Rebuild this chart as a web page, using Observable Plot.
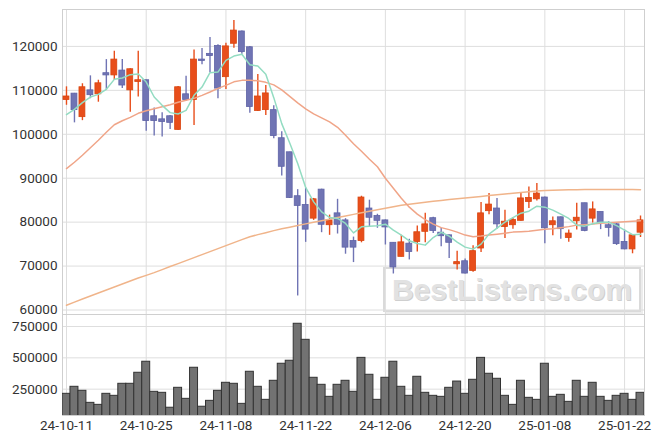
<!DOCTYPE html>
<html>
<head>
<meta charset="utf-8">
<script src="https://cdn.jsdelivr.net/npm/d3@7"></script>
<script src="https://cdn.jsdelivr.net/npm/@observablehq/plot@0.6"></script>
<style>
  html, body { margin: 0; padding: 0; background: #fff; }
  #wrap { position: relative; width: 663px; height: 444px; overflow: hidden; background: #fff; }
  #wrap svg { display: block; position: relative; z-index: 1; }
  #wm {
    position: absolute; z-index: 0; left: 383px; top: 267px; width: 254px; height: 41px;
    border: 2px solid #dadada; box-shadow: 2px 2px 0 #ececec;
    font-family: "Liberation Sans", Arial, sans-serif; font-weight: bold; font-size: 30px;
    color: #e2e2e2; text-align: center; line-height: 41px;
    text-shadow: 1px 1px 0 #cfcfcf;
  }
</style>
</head>
<body>
<div id="wrap"></div>
<script>
const dates = [
  "24-10-11","24-10-14","24-10-15","24-10-16","24-10-17","24-10-18","24-10-21","24-10-22","24-10-23","24-10-24",
  "24-10-25","24-10-28","24-10-29","24-10-30","24-10-31","24-11-01","24-11-04","24-11-05","24-11-06","24-11-07",
  "24-11-08","24-11-11","24-11-12","24-11-13","24-11-14","24-11-15","24-11-18","24-11-19","24-11-20","24-11-21",
  "24-11-22","24-11-25","24-11-26","24-11-27","24-11-28","24-11-29","24-12-02","24-12-03","24-12-04","24-12-05",
  "24-12-06","24-12-09","24-12-10","24-12-11","24-12-12","24-12-13","24-12-16","24-12-17","24-12-18","24-12-19",
  "24-12-20","24-12-23","24-12-24","24-12-26","24-12-27","24-12-30","25-01-02","25-01-03","25-01-06","25-01-07",
  "25-01-08","25-01-09","25-01-10","25-01-13","25-01-14","25-01-15","25-01-16","25-01-17","25-01-20","25-01-21",
  "25-01-22","25-01-23","25-01-24"
];
const opens = [
  107800,109250,103900,110000,109100,113900,113400,114500,110000,111900,
  112300,104100,103400,104100,101000,109100,107800,117000,118300,120100,
  113000,120600,123400,119800,105300,105500,105500,99100,95900,85900,
  83900,80800,87400,79300,82000,80400,75700,75700,83100,81400,
  80400,75300,72100,75100,75500,77800,80900,77600,77000,70400,
  71100,68900,74000,82500,83100,78900,79300,80300,84600,85200,
  85600,79300,81100,76400,80200,84300,80800,82300,79300,79500,
  75500,73800,77600
];
const highs = [
  110800,109300,111500,113300,112300,117000,118900,117000,114900,118900,
  112300,106000,104900,104300,110900,113200,119200,119500,122000,120400,
  120700,125900,123500,120000,113600,111100,106500,100600,95900,87400,
  87700,85400,87500,81600,85200,80800,76600,85900,85000,81800,
  80500,75300,77000,76100,79100,82000,81100,78600,77100,73400,
  71600,74600,84500,86500,85400,82700,81000,86700,88000,88800,
  85700,81200,81200,78200,84300,84300,84600,82300,80100,79700,
  78200,77100,81400
];
const lows = [
  106600,102600,103100,108100,107300,110000,112300,110400,105000,108500,
  100700,99600,99400,101100,100900,107500,102000,115800,114000,108100,
  110200,119600,118200,104800,105200,104300,99000,90500,85400,63200,
  75400,80400,77600,77000,77300,72700,70800,75300,78800,78600,
  74800,68200,72100,71400,73200,75300,77400,74400,71700,69100,
  68200,68600,73100,81700,78400,76300,78400,80200,83100,84800,
  75100,76900,76100,75400,78200,77800,79800,78300,76600,74700,
  73700,72800,76500
];
const closes = [
  108600,105500,110700,108900,111600,113400,117000,111100,114800,112300,
  103000,103000,102800,102600,110700,107800,117000,116700,117800,110400,
  120000,123600,118700,106200,108600,109300,99600,92600,85500,83700,
  78300,85200,79400,80400,79400,74200,74200,85600,81000,80300,
  78800,69700,75400,73200,77700,79500,78000,76800,75300,70900,
  68300,73400,82000,84000,79500,80100,80500,85400,85500,86500,
  78600,80200,78400,77400,81000,78000,82900,79800,78700,75000,
  73800,77000,80400
];
const volumes = [
  213000,269000,237000,141000,125000,213000,197000,293000,293000,381000,
  469000,229000,221000,102000,261000,173000,421000,110000,157000,237000,
  301000,293000,133000,389000,269000,165000,317000,453000,477000,772000,
  644000,341000,285000,189000,285000,317000,229000,500000,365000,165000,
  341000,469000,269000,197000,349000,221000,197000,189000,261000,311000,
  213000,325000,500000,373000,333000,197000,125000,317000,181000,165000,
  453000,189000,205000,149000,317000,189000,301000,189000,157000,197000,
  213000,165000,221000
];
const ma5 = [
  104470,105680,107200,108480,109090,110230,112500,112800,113570,113700,
  111890,108480,106590,104930,104620,105450,108860,110750,114020,114160,
  116820,117800,118200,115840,115520,113640,108340,102430,98000,93330,
  87890,84610,82340,81060,80840,79700,77560,78930,79090,79160,
  79540,78180,77040,75750,75150,74770,76500,77700,76820,75450,
  74310,73860,75000,77270,78630,80000,81020,82040,82500,83640,
  83410,82730,81820,80840,79310,79090,79650,80000,80000,79200,
  78180,77150,77270
];
const ma20 = [
  92200,93640,95230,96930,98640,100450,102160,103070,103860,104770,
  105340,105800,106250,106700,107270,107730,108180,108860,109610,110450,
  111140,111930,112270,112320,112160,111820,111250,110110,108640,107160,
  105800,104660,103750,102840,101590,99770,97840,96140,94320,92610,
  90000,87730,85450,83410,81820,80570,79550,78750,78300,77730,
  77050,76700,76820,77050,77270,77500,77730,77840,77950,78180,
  78410,78520,78750,78980,79320,79430,79550,79770,79890,80000,
  80110,80230,80340
];
const ma60 = [
  61100,61800,62500,63180,63860,64550,65230,65910,66590,67270,
  67890,68520,69200,69890,70570,71250,71930,72610,73300,73980,
  74660,75340,76020,76660,77160,77610,78070,78480,78860,79250,
  79610,80000,80340,80680,81070,81410,81770,82140,82500,82840,
  83180,83520,83820,84090,84320,84550,84770,84950,85140,85320,
  85500,85680,85860,86050,86230,86410,86590,86770,86930,87090,
  87200,87270,87320,87360,87390,87410,87430,87430,87430,87430,
  87430,87410,87390
];
const tickLabels = ["24-10-11","24-10-25","24-11-08","24-11-22","24-12-06","24-12-20","25-01-08","25-01-22"];
const priceTicks = [60000,70000,80000,90000,100000,110000,120000];
const volumeTicks = [250000,500000,750000];

const rows = dates.map((d, i) => ({
  i, date: d, open: opens[i], high: highs[i], low: lows[i], close: closes[i],
  volume: volumes[i], ma5: ma5[i], ma20: ma20[i], ma60: ma60[i]
}));
const tickIdx = tickLabels.map(t => dates.indexOf(t));

const UP = "#e84e1b", UPS = "#d9450f";
const DOWN = "#7074b4", DOWNS = "#5f63a6";
const GRID = "#dedede";
const style = {fontFamily: "Roboto, sans-serif", fontSize: "13.5px", color: "#333", background: "transparent", overflow: "visible"};
const xDomain = [-0.5, 72.5];

const price = Plot.plot({
  width: 663, height: 314, marginTop: 9, marginBottom: 0, marginLeft: 62, marginRight: 19,
  style,
  x: {domain: xDomain, axis: null},
  y: {domain: [58980, 128400], ticks: priceTicks, tickSize: 0, tickPadding: 5, tickFormat: d => String(d), label: null},
  marks: [
    Plot.gridX(tickIdx, {stroke: GRID, strokeOpacity: 1}),
    Plot.gridY(priceTicks, {stroke: GRID, strokeOpacity: 1}),
    Plot.frame({stroke: "#cfcfcf"}),
    Plot.ruleX(rows, {x: "i", y1: "low", y2: "high", stroke: d => d.close >= d.open ? UP : DOWN, strokeWidth: 1.4}),
    Plot.rect(rows, {x1: d => d.i - 0.37, x2: d => d.i + 0.37, y1: "open", y2: "close",
      fill: d => d.close >= d.open ? UP : DOWN, stroke: d => d.close >= d.open ? UPS : DOWNS, strokeWidth: 0.8}),
    Plot.line(rows, {x: "i", y: "ma60", stroke: "#f0b48a", strokeWidth: 1.5}),
    Plot.line(rows, {x: "i", y: "ma20", stroke: "#f0a588", strokeWidth: 1.5}),
    Plot.line(rows, {x: "i", y: "ma5", stroke: "#93dcc2", strokeWidth: 1.5})
  ]
});

const vol = Plot.plot({
  width: 663, height: 130, marginTop: 0, marginBottom: 29, marginLeft: 62, marginRight: 19,
  style,
  x: {domain: xDomain, ticks: tickIdx, tickFormat: i => dates[i], tickSize: 0, tickPadding: 5, label: null},
  y: {domain: [40000, 846000], ticks: volumeTicks, tickSize: 0, tickPadding: 5, tickFormat: d => String(d), label: null},
  marks: [
    Plot.gridX(tickIdx, {stroke: GRID, strokeOpacity: 1}),
    Plot.gridY(volumeTicks, {stroke: GRID, strokeOpacity: 1}),
    Plot.frame({stroke: "#cfcfcf"}),
    Plot.rect(rows, {x1: d => d.i - 0.5, x2: d => d.i + 0.5, y1: 0, y2: "volume",
      fill: "#727272", stroke: "#333", strokeWidth: 1, clip: true})
  ]
});

const wrap = document.getElementById("wrap");
const wm = document.createElement("div");
wm.id = "wm";
wm.textContent = "BestListens.com";
wrap.appendChild(wm);
wrap.appendChild(price);
wrap.appendChild(vol);
</script>
</body>
</html>
